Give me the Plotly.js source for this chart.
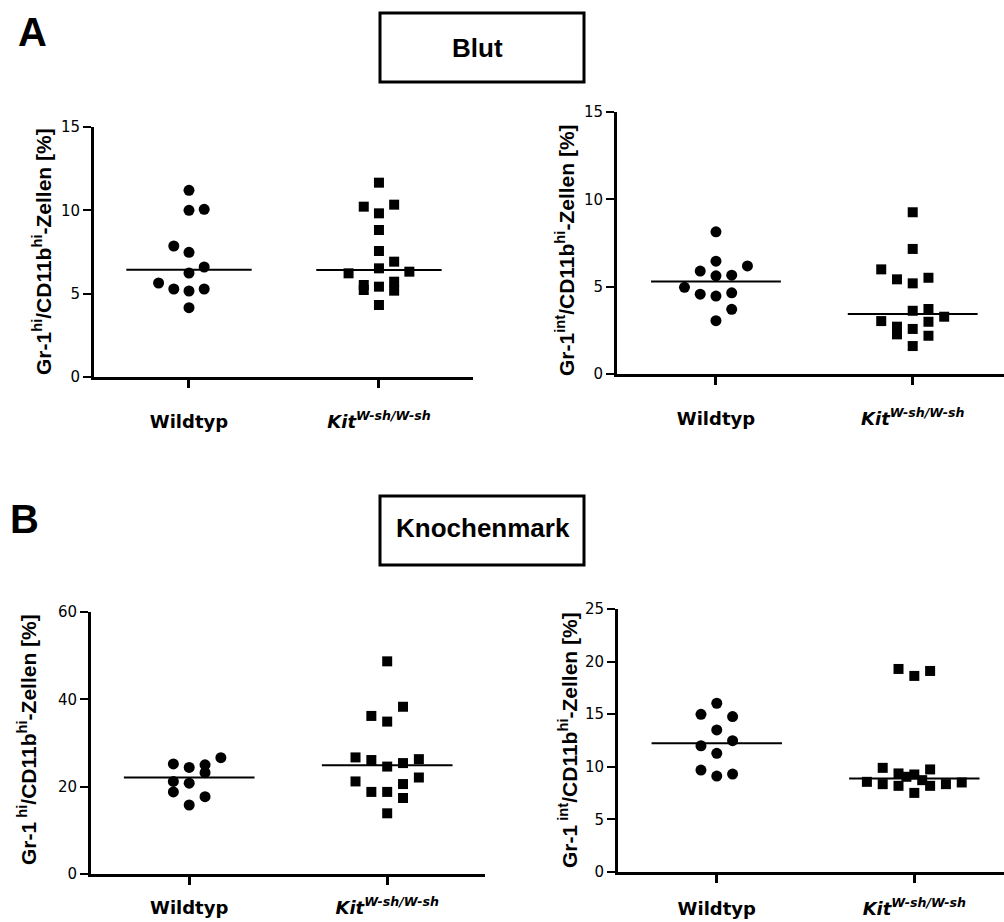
<!DOCTYPE html>
<html>
<head>
<meta charset="utf-8">
<script src="https://cdn.plot.ly/plotly-3.0.1.min.js"></script>
<style>html,body{margin:0;padding:0;background:#fff;}#chart{width:1004px;height:922px;}</style>
</head>
<body>
<div id="chart"></div>
<script>
// ---------- DATA ----------
const categories = ['Wildtyp', 'KitW-sh/W-sh'];
const categoryTickLabels = ['<b>Wildtyp</b>', '<b><i>Kit</i><sup><i>W-sh/W-sh</i></sup></b>'];
const sectionTitles = ['Blut', 'Knochenmark'];
const panelLetters = ['A', 'B'];
const yTitles = [
  'Gr-1<sup>hi</sup>/CD11b<sup>hi</sup>-Zellen [%]',
  'Gr-1<sup>int</sup>/CD11b<sup>hi</sup>-Zellen [%]',
  'Gr-1<sup> hi</sup>/CD11b<sup>hi</sup>-Zellen [%]',
  'Gr-1<sup> int</sup>/CD11b<sup>hi</sup>-Zellen [%]'
];

// Panel 1: Blut, Gr-1hi/CD11bhi
const bloodHiWT      = [11.2, 10.0, 10.06, 7.86, 7.48, 6.6, 6.24, 5.64, 5.28, 5.16, 5.28, 4.16];
const bloodHiWTSlot  = [0, 0, 1, -1, 0, 1, 0, -2, -1, 0, 1, 0];
const bloodHiKit     = [11.66, 10.22, 10.34, 9.82, 8.82, 7.56, 6.92, 6.52, 6.22, 6.32, 5.72, 5.52, 5.42, 5.22, 5.18, 4.32];
const bloodHiKitSlot = [0, -1, 1, 0, 0, 0, 1, 0, -2, 2, 1, -1, 0, -1, 1, 0];
const bloodHiMedians = [6.44, 6.42];

// Panel 2: Blut, Gr-1int/CD11bhi
const bloodIntWT      = [8.14, 6.46, 6.19, 5.89, 5.62, 5.66, 4.96, 4.57, 4.46, 4.65, 3.70, 3.05];
const bloodIntWTSlot  = [0, 0, 2, -1, 0, 1, -2, -1, 0, 1, 1, 0];
const bloodIntKit     = [9.26, 7.16, 5.99, 5.42, 5.19, 5.51, 3.62, 3.72, 3.28, 3.03, 2.99, 2.71, 2.27, 2.58, 2.19, 1.60];
const bloodIntKitSlot = [0, 0, -2, -1, 0, 1, 0, 1, 2, -2, 1, -1, -1, 0, 1, 0];
const bloodIntMedians = [5.30, 3.43];

// Panel 3: Knochenmark, Gr-1hi/CD11bhi
const marrowHiWT      = [25.2, 24.4, 25.0, 26.65, 23.2, 21.2, 20.8, 18.8, 17.7, 15.8];
const marrowHiWTSlot  = [-1, 0, 1, 2, 1, -1, 0, -1, 1, 0];
const marrowHiKit     = [48.7, 38.3, 36.2, 34.9, 26.7, 26.1, 24.6, 25.4, 26.3, 22.1, 21.2, 20.6, 18.8, 18.8, 17.4, 13.9];
const marrowHiKitSlot = [0, 1, -1, 0, -2, -1, 0, 1, 2, 2, -2, 1, -1, 0, 1, 0];
const marrowHiMedians = [22.1, 24.9];

// Panel 4: Knochenmark, Gr-1int/CD11bhi
const marrowIntWT      = [16.04, 14.99, 14.77, 13.5, 12.48, 12.0, 11.28, 9.69, 9.31, 9.12];
const marrowIntWTSlot  = [0, -1, 1, 0, 1, -1, 0, -1, 1, 0];
const marrowIntKit     = [19.3, 18.64, 19.11, 9.9, 9.75, 9.37, 9.27, 9.05, 8.73, 8.57, 8.51, 8.35, 8.35, 8.19, 8.19, 7.52];
const marrowIntKitSlot = [-1, 0, 1, -2, 1, -1, 0, -0.5, 0.5, -3, 3, -2, 2, -1, 1, 0];
const marrowIntMedians = [12.23, 8.89];

const yRanges = [[0, 15], [0, 15], [0, 60], [0, 25]];
const yDticks = [5, 5, 20, 5];

// ---------- LAYOUT HELPERS ----------
const W = 1004, H = 922;
const fx = px => px / W;
const fy = py => 1 - py / H;
const SLOT = 0.08;      // horizontal spacing of scatter columns (category units)
const HALF = 0.33;      // half width of median line

const panels = [
  {wt: bloodHiWT,  wtS: bloodHiWTSlot,  kit: bloodHiKit,  kitS: bloodHiKitSlot,  med: bloodHiMedians,
   xd: [94, 473], yd: [127, 377], xr: [-0.5, 1.495], title: yTitles[0], tx: 42, ty: 252, so: 18},
  {wt: bloodIntWT, wtS: bloodIntWTSlot, kit: bloodIntKit, kitS: bloodIntKitSlot, med: bloodIntMedians,
   xd: [617, 1004], yd: [112, 374], xr: [-0.503, 1.464], title: yTitles[1], tx: 565, ty: 250, so: 18},
  {wt: marrowHiWT, wtS: marrowHiWTSlot, kit: marrowHiKit, kitS: marrowHiKitSlot, med: marrowHiMedians,
   xd: [91, 485], yd: [612, 874], xr: [-0.496, 1.494], title: yTitles[2], tx: 27, ty: 740, so: 7},
  {wt: marrowIntWT, wtS: marrowIntWTSlot, kit: marrowIntKit, kitS: marrowIntKitSlot, med: marrowIntMedians,
   xd: [618, 1004], yd: [609, 872], xr: [-0.5, 1.454], title: yTitles[3], tx: 568, ty: 740, so: 10}
];

const traces = [];
const layout = {
  width: W, height: H,
  margin: {l: 0, r: 0, t: 0, b: 0},
  paper_bgcolor: '#ffffff', plot_bgcolor: '#ffffff',
  showlegend: false,
  font: {family: 'DejaVu Sans, sans-serif', color: '#000'},
  annotations: [], shapes: []
};

const tickFontFam = 'DejaVu Sans, sans-serif';
const titleFam = 'Liberation Sans, Arial, sans-serif';

panels.forEach((p, i) => {
  const n = i + 1;
  const xa = 'x' + (n === 1 ? '' : n), ya = 'y' + (n === 1 ? '' : n);
  const xk = 'xaxis' + (n === 1 ? '' : n), yk = 'yaxis' + (n === 1 ? '' : n);

  traces.push({
    type: 'scatter', mode: 'markers', xaxis: xa, yaxis: ya, cliponaxis: false,
    x: p.wt.map((v, j) => 0 + p.wtS[j] * SLOT), y: p.wt,
    marker: {symbol: 'circle', size: 11, color: '#000', line: {width: 0}},
    name: categories[0], hoverinfo: 'y'
  });
  traces.push({
    type: 'scatter', mode: 'markers', xaxis: xa, yaxis: ya, cliponaxis: false,
    x: p.kit.map((v, j) => 1 + p.kitS[j] * SLOT), y: p.kit,
    marker: {symbol: 'square', size: 10, color: '#000', line: {width: 0}},
    name: categories[1], hoverinfo: 'y'
  });
  p.med.forEach((m, c) => {
    traces.push({
      type: 'scatter', mode: 'lines', xaxis: xa, yaxis: ya, cliponaxis: false,
      x: [c - HALF, c + HALF], y: [m, m],
      line: {color: '#000', width: 2}, hoverinfo: 'skip'
    });
  });

  layout[xk] = {
    domain: [fx(p.xd[0]), fx(p.xd[1])], range: p.xr, anchor: ya,
    tickmode: 'array', tickvals: [0, 1], ticktext: categoryTickLabels,
    showline: true, linewidth: 3, linecolor: '#000', mirror: false,
    ticks: 'outside', ticklen: 8, tickwidth: 3, tickcolor: '#000',
    ticklabelstandoff: p.so,
    tickfont: {family: tickFontFam, size: 18, color: '#000'},
    showgrid: false, zeroline: false, fixedrange: true
  };
  layout[yk] = {
    domain: [fy(p.yd[1]), fy(p.yd[0])], range: yRanges[i], anchor: xa,
    tickmode: 'linear', tick0: 0, dtick: yDticks[i],
    showline: true, linewidth: 3, linecolor: '#000',
    ticks: 'outside', ticklen: 8, tickwidth: 2, tickcolor: '#000',
    tickfont: {family: tickFontFam, size: 15, color: '#000'},
    showgrid: false, zeroline: false, fixedrange: true
  };
  layout.annotations.push({
    xref: 'paper', yref: 'paper', x: fx(p.tx), y: fy(p.ty),
    xanchor: 'center', yanchor: 'middle', textangle: -90, showarrow: false,
    text: '<b>' + p.title + '</b>',
    font: {family: titleFam, size: 21, color: '#000'}
  });
});

// Section boxes and letters
const boxes = [{y0: 13, y1: 82, tx: 477, ty: 48}, {y0: 496, y1: 565, tx: 483, ty: 528}];
boxes.forEach((b, k) => {
  layout.shapes.push({
    type: 'rect', xref: 'paper', yref: 'paper',
    x0: fx(380), x1: fx(584), y0: fy(b.y1), y1: fy(b.y0),
    line: {color: '#000', width: 3}, fillcolor: 'rgba(0,0,0,0)'
  });
  layout.annotations.push({
    xref: 'paper', yref: 'paper', x: fx(b.tx), y: fy(b.ty),
    xanchor: 'center', yanchor: 'middle', showarrow: false,
    text: '<b>' + sectionTitles[k] + '</b>',
    font: {family: titleFam, size: 26, color: '#000'}
  });
});
const letterPos = [{x: 32, y: 32}, {x: 24, y: 519}];
letterPos.forEach((l, k) => {
  layout.annotations.push({
    xref: 'paper', yref: 'paper', x: fx(l.x), y: fy(l.y),
    xanchor: 'center', yanchor: 'middle', showarrow: false,
    text: '<b>' + panelLetters[k] + '</b>',
    font: {family: titleFam, size: 40, color: '#000'}
  });
});

Plotly.newPlot('chart', traces, layout, {staticPlot: true, displayModeBar: false});
</script>
</body>
</html>
